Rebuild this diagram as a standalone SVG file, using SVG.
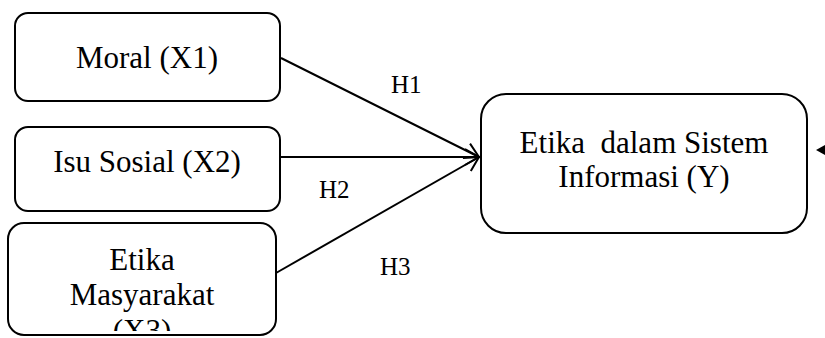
<svg xmlns="http://www.w3.org/2000/svg" width="825" height="338" viewBox="0 0 825 338">
<style>
.box{fill:#fff;stroke:#000;stroke-width:2}
.t{font-family:"Liberation Serif","Times New Roman",serif;font-size:31px;fill:#000;text-anchor:middle}
.h{font-family:"Liberation Serif","Times New Roman",serif;font-size:25px;fill:#000}
.c{fill:none;stroke:#000;stroke-width:2}
</style>
<defs>
<marker id="open" markerUnits="userSpaceOnUse" markerWidth="20" markerHeight="20" refX="15" refY="9" orient="auto">
<path d="M1,1 L15,9 L1,17" fill="none" stroke="#000" stroke-width="2"/>
</marker>
<clipPath id="clip3"><rect x="0" y="223" width="290" height="108"/></clipPath>
</defs>
<rect width="825" height="338" fill="#fff"/>
<g id="connectors">
<line class="c" x1="281" y1="58" x2="479" y2="157" marker-end="url(#open)"/>
<line class="c" x1="281" y1="157" x2="479" y2="157" marker-end="url(#open)"/>
<line class="c" x1="276" y1="273" x2="479" y2="157" marker-end="url(#open)"/>
<path d="M816,150 L827,144 L827,156 Z" fill="#000"/>
<text class="h" x="391" y="93">H1</text>
<text class="h" x="319" y="198">H2</text>
<text class="h" x="380" y="275">H3</text>
</g>
<g id="node-x1">
<rect class="box" x="15" y="13" width="265" height="88" rx="13"/>
<text class="t" x="147" y="68">Moral (X1)</text>
</g>
<g id="node-x2">
<rect class="box" x="15" y="127" width="265" height="84" rx="13"/>
<text class="t" x="147" y="172">Isu Sosial (X2)</text>
</g>
<g id="node-x3">
<rect class="box" x="8" y="223" width="268" height="112" rx="16"/>
<g clip-path="url(#clip3)">
<text class="t" x="142" y="270">Etika</text>
<text class="t" x="142" y="305">Masyarakat</text>
<text class="t" x="142" y="341">(X3)</text>
</g>
</g>
<g id="node-y">
<rect class="box" x="481" y="94" width="326" height="139" rx="25"/>
<text class="t" x="644" y="153" xml:space="preserve">Etika  dalam Sistem</text>
<text class="t" x="644" y="187">Informasi (Y)</text>
</g>
</svg>
